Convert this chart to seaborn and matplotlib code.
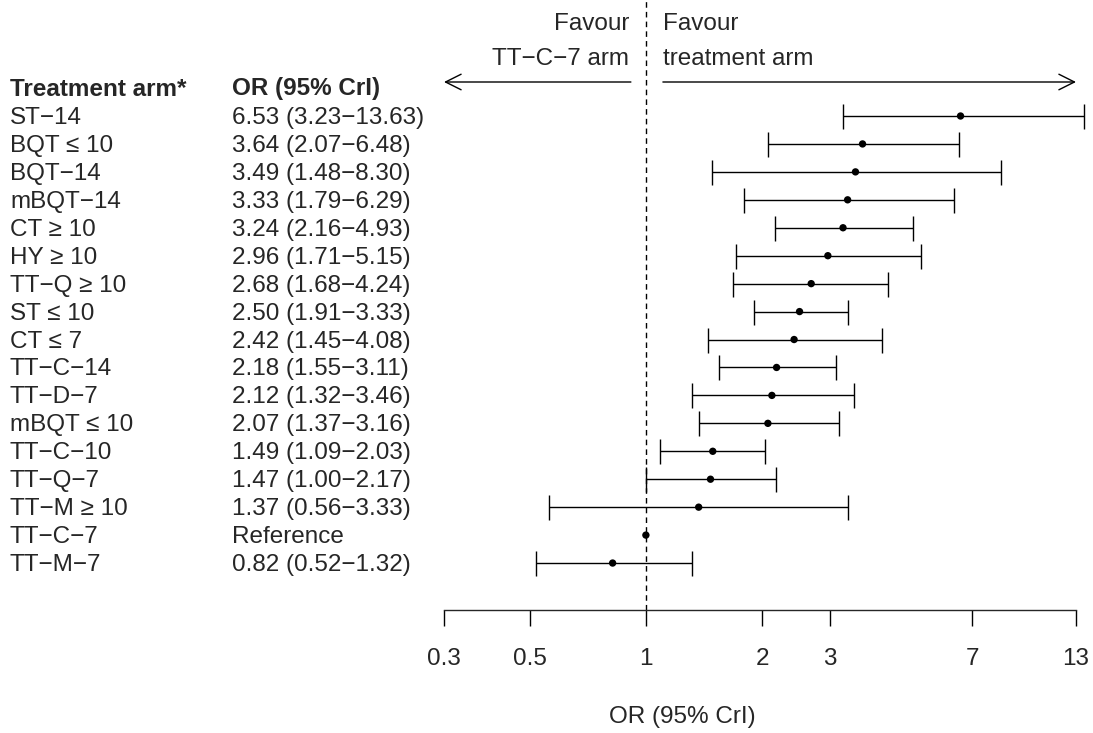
#!/usr/bin/env python3
"""
Forest plot: odds ratios of treatment arms vs TT-C-7 reference
"""

import pandas as pd
import numpy as np
import matplotlib
matplotlib.use("Agg")
import matplotlib.pyplot as plt
import matplotlib.transforms as mtransforms
import seaborn as sns

sns.set_style("white")
plt.rcParams['font.family'] = ['Liberation Sans', 'DejaVu Sans']

# data (top to bottom)
arms = ["ST\u221214", "BQT \u2264 10", "BQT\u221214", "mBQT\u221214", "CT \u2265 10",
        "HY \u2265 10", "TT\u2212Q \u2265 10", "ST \u2264 10", "CT \u2264 7", "TT\u2212C\u221214",
        "TT\u2212D\u22127", "mBQT \u2264 10", "TT\u2212C\u221210", "TT\u2212Q\u22127",
        "TT\u2212M \u2265 10", "TT\u2212C\u22127", "TT\u2212M\u22127"]
odds_ratio = [6.53, 3.64, 3.49, 3.33, 3.24, 2.96, 2.68, 2.50, 2.42, 2.18,
              2.12, 2.07, 1.49, 1.47, 1.37, 1.00, 0.82]
ci_low = [3.23, 2.07, 1.48, 1.79, 2.16, 1.71, 1.68, 1.91, 1.45, 1.55,
          1.32, 1.37, 1.09, 1.00, 0.56, 1.00, 0.52]
ci_high = [13.63, 6.48, 8.30, 6.29, 4.93, 5.15, 4.24, 3.33, 4.08, 3.11,
           3.46, 3.16, 2.03, 2.17, 3.33, 1.00, 1.32]
reference_arm = "TT\u2212C\u22127"
tick_values = [0.3, 0.5, 1, 2, 3, 7, 13]
tick_labels = ["0.3", "0.5", "1", "2", "3", "7", "13"]

df = pd.DataFrame({'arm': arms, 'or': odds_ratio, 'lo': ci_low, 'hi': ci_high})
df['row'] = np.arange(len(df))


def or_text(r):
    if r['arm'] == reference_arm:
        return "Reference"
    return f"{r['or']:.2f} ({r['lo']:.2f}\u2212{r['hi']:.2f})"


df['label'] = df.apply(or_text, axis=1)

# figure layout in pixels (1093 x 733 at dpi 100)
W, H = 1093, 733
row0_px, row_step = 116, 27.94
fig = plt.figure(figsize=(W / 100, H / 100), dpi=100)
ax = fig.add_axes([444 / W, 0, 632 / W, 1])


def py(px):
    # pixel y -> data row coordinate
    return (px - row0_px) / row_step


ax.set_xscale('log')
ax.set_xlim(0.3, 13)
ax.set_ylim(py(H), py(0))

# CIs
nonref = df[df['arm'] != reference_arm]
ax.errorbar(nonref['or'], nonref['row'],
            xerr=[nonref['or'] - nonref['lo'], nonref['hi'] - nonref['or']],
            fmt='none', ecolor='black', elinewidth=1, capsize=9, capthick=1,
            clip_on=False)
sns.scatterplot(data=df, x='or', y='row', ax=ax, color='black', s=28,
                edgecolor='none', legend=False, clip_on=False, zorder=3)

# reference line
ax.axvline(1, ymin=1 - 610 / H, ymax=1, color='black', lw=1, ls=(0, (4, 3)))

# direction arrows
arrow_y = py(82)
ax.annotate("", xy=(0.3, arrow_y), xytext=(np.exp((630 - 645) / 167.7), arrow_y),
            arrowprops=dict(arrowstyle='->', lw=1, color='black', mutation_scale=28,
                            shrinkA=0, shrinkB=0), annotation_clip=False)
ax.annotate("", xy=(13, arrow_y), xytext=(np.exp((662 - 645) / 167.7), arrow_y),
            arrowprops=dict(arrowstyle='->', lw=1, color='black', mutation_scale=28,
                            shrinkA=0, shrinkB=0), annotation_clip=False)

fs = 17.5
dy = 2 / row_step  # small downward nudge so text sits on the row line
ax.text(np.exp((628 - 645) / 167.7), py(24), "Favour", ha='right', va='center', fontsize=fs)
ax.text(np.exp((628 - 645) / 167.7), py(59), "TT\u2212C\u22127 arm", ha='right', va='center', fontsize=fs)
ax.text(np.exp((662 - 645) / 167.7), py(24), "Favour", ha='left', va='center', fontsize=fs)
ax.text(np.exp((662 - 645) / 167.7), py(59), "treatment arm", ha='left', va='center', fontsize=fs)

# left columns
trans = mtransforms.blended_transform_factory(fig.transFigure, ax.transData)
ax.text(10 / W, py(89), "Treatment arm*", transform=trans, ha='left', va='center',
        fontsize=fs, fontweight='bold')
ax.text(232 / W, py(89), "OR (95% CrI)", transform=trans, ha='left', va='center',
        fontsize=fs, fontweight='bold')
for _, r in df.iterrows():
    ax.text(10 / W, r['row'] + dy, r['arm'], transform=trans, ha='left', va='center', fontsize=fs)
    ax.text(232 / W, r['row'] + dy, r['label'], transform=trans, ha='left', va='center', fontsize=fs)

# x axis drawn below the rows
for s in ['left', 'right', 'top']:
    ax.spines[s].set_visible(False)
ax.spines['bottom'].set_position(('data', py(610)))
ax.spines['bottom'].set_linewidth(1)
ax.set_xticks(tick_values)
ax.set_xticklabels(tick_labels, fontsize=fs)
ax.xaxis.set_minor_locator(matplotlib.ticker.NullLocator())
ax.tick_params(axis='x', bottom=True, direction='out', length=11.5, width=1,
               pad=16, color='black')
ax.set_yticks([])
ax.set_xlabel("")
ax.set_ylabel("")
ax.patch.set_alpha(0)

fig.text(682 / W, 1 - 717 / H, "OR (95% CrI)", ha='center', va='center', fontsize=fs)

plt.savefig('out.png', dpi=100)
